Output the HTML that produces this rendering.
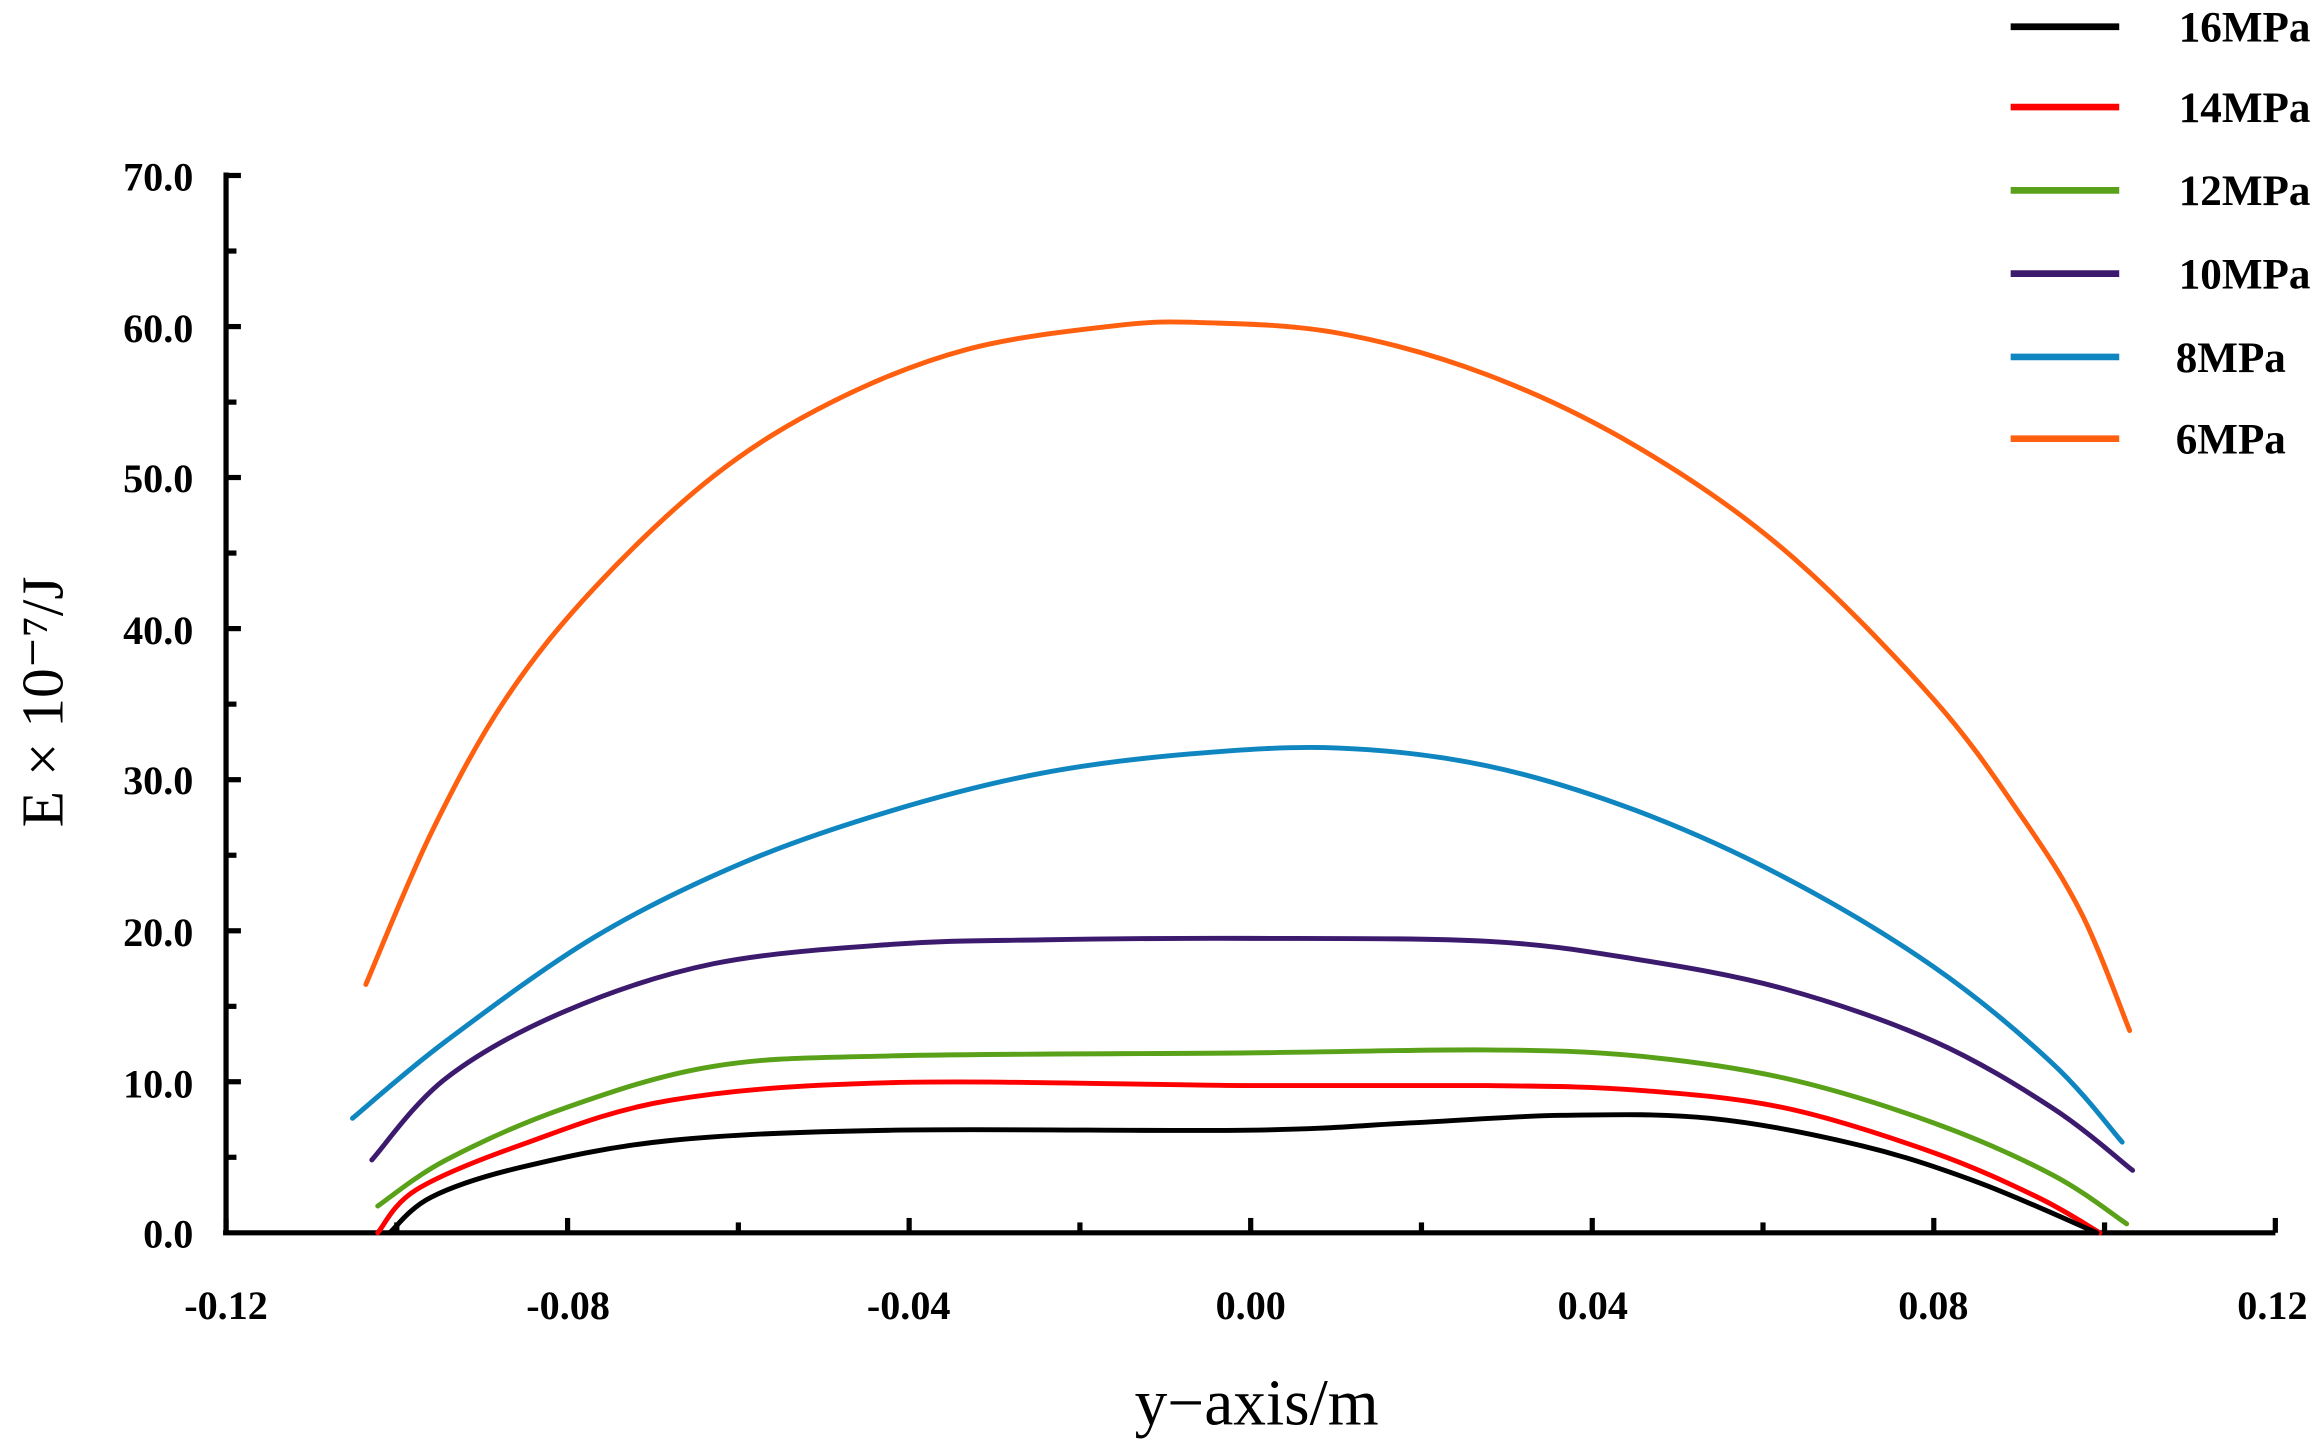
<!DOCTYPE html>
<html><head><meta charset="utf-8"><style>
html,body{margin:0;padding:0;background:#fff;}
svg{display:block;}
text{font-family:"Liberation Serif",serif;fill:#000;}
</style></head><body>
<svg id="s" width="2320" height="1455" viewBox="0 0 1560 978.4" preserveAspectRatio="none" xmlns="http://www.w3.org/2000/svg">
<g stroke="#000" stroke-width="3.5" fill="none">
<line x1="152" y1="116" x2="152" y2="830"/>
<line x1="150" y1="829" x2="1530" y2="829"/>
<line x1="152" y1="118" x2="162" y2="118"/>
<line x1="152" y1="219.6" x2="162" y2="219.6"/>
<line x1="152" y1="321.1" x2="162" y2="321.1"/>
<line x1="152" y1="422.7" x2="162" y2="422.7"/>
<line x1="152" y1="524.3" x2="162" y2="524.3"/>
<line x1="152" y1="625.9" x2="162" y2="625.9"/>
<line x1="152" y1="727.4" x2="162" y2="727.4"/>
<line x1="152" y1="168.8" x2="159" y2="168.8"/>
<line x1="152" y1="270.4" x2="159" y2="270.4"/>
<line x1="152" y1="371.9" x2="159" y2="371.9"/>
<line x1="152" y1="473.5" x2="159" y2="473.5"/>
<line x1="152" y1="575.1" x2="159" y2="575.1"/>
<line x1="152" y1="676.7" x2="159" y2="676.7"/>
<line x1="152" y1="778.2" x2="159" y2="778.2"/>
</g>
<g id="xt" stroke="#000" stroke-width="3.5"></g>
<g font-size="27" font-weight="bold" text-anchor="end">
<text x="130" y="128">70.0</text><text x="130" y="230">60.0</text><text x="130" y="331">50.0</text>
<text x="130" y="433">40.0</text><text x="130" y="534">30.0</text><text x="130" y="636">20.0</text>
<text x="130" y="738">10.0</text><text x="130" y="839">0.0</text>
</g>
<g font-size="27" font-weight="bold" text-anchor="middle">
<text x="152" y="887">-0.12</text><text x="382" y="887">-0.08</text><text x="611" y="887">-0.04</text>
<text x="841" y="887">0.00</text><text x="1071" y="887">0.04</text><text x="1300" y="887">0.08</text><text x="1528" y="887">0.12</text>
</g>
<text x="845" y="958" font-size="44" text-anchor="middle">y−axis/m</text>
<text transform="translate(42,472) rotate(-90)" font-size="40" text-anchor="middle">E × 10⁻⁷/J</text>
<g stroke-width="4.5">
<line x1="1352" y1="18" x2="1425" y2="18" stroke="#000"/>
<line x1="1352" y1="72" x2="1425" y2="72" stroke="#ff0000"/>
<line x1="1352" y1="128" x2="1425" y2="128" stroke="#5aa11a"/>
<line x1="1352" y1="184" x2="1425" y2="184" stroke="#3c1a6e"/>
<line x1="1352" y1="240" x2="1425" y2="240" stroke="#0f86c0"/>
<line x1="1352" y1="295" x2="1425" y2="295" stroke="#ff6010"/>
</g>
<g font-size="29" font-weight="bold">
<text x="1465" y="28">16MPa</text><text x="1465" y="82">14MPa</text><text x="1465" y="138">12MPa</text>
<text x="1465" y="194">10MPa</text><text x="1463" y="250">8MPa</text><text x="1463" y="305">6MPa</text>
</g>
<g id="curves" fill="none" stroke-width="3.3" stroke-linecap="round"></g>
</svg>
<script>
var NS="http://www.w3.org/2000/svg";
var xt=document.getElementById("xt");
for(var i=0;i<=12;i++){var x=152+i*114.83;var l=document.createElementNS(NS,"line");
l.setAttribute("x1",x);l.setAttribute("x2",x);l.setAttribute("y1",829);l.setAttribute("y2",i%2?822:819);xt.appendChild(l);}
var C=[
["#ff6010",[[246,662],[290,560],[340,470],[400,395],[480,320],[560,270],[650,235],[750,219],[810,217],[900,224],[1000,252],[1100,300],[1200,370],[1300,470],[1360,550],[1400,615],[1432,693]]],
["#0f86c0",[[237,752],[300,700],[400,630],[500,580],[600,545],[700,520],[800,507],[900,503],[1000,515],[1100,545],[1200,590],[1300,650],[1380,715],[1427,768]]],
["#3c1a6e",[[250,780],[300,725],[380,680],[480,648],[600,635],[700,632],[840,631],[1000,633],[1100,645],[1200,665],[1300,700],[1380,745],[1434,787]]],
["#5aa11a",[[254,811],[300,780],[380,745],[480,717],[600,710],[840,708],[1000,706],[1100,710],[1200,725],[1300,755],[1380,790],[1430,823]]],
["#ff0000",[[254,829],[280,800],[350,770],[450,740],[600,728],[840,730],[1000,730],[1100,733],[1200,745],[1300,775],[1370,805],[1412,829]]],
["#000000",[[262,829],[290,805],[350,785],[450,767],[600,760],[840,760],[950,755],[1050,750],[1150,752],[1250,770],[1330,795],[1410,829]]]
];
var g=document.getElementById("curves");
C.forEach(function(c){var p=c[1],d="M"+p[0][0]+","+p[0][1];
for(var i=0;i<p.length-1;i++){var p0=p[i-1]||p[i],p1=p[i],p2=p[i+1],p3=p[i+2]||p2;
d+=" C"+(p1[0]+(p2[0]-p0[0])/6)+","+(p1[1]+(p2[1]-p0[1])/6)+" "+(p2[0]-(p3[0]-p1[0])/6)+","+(p2[1]-(p3[1]-p1[1])/6)+" "+p2[0]+","+p2[1];}
var e=document.createElementNS(NS,"path");e.setAttribute("d",d);e.setAttribute("stroke",c[0]);g.appendChild(e);});
</script>
</body></html>
